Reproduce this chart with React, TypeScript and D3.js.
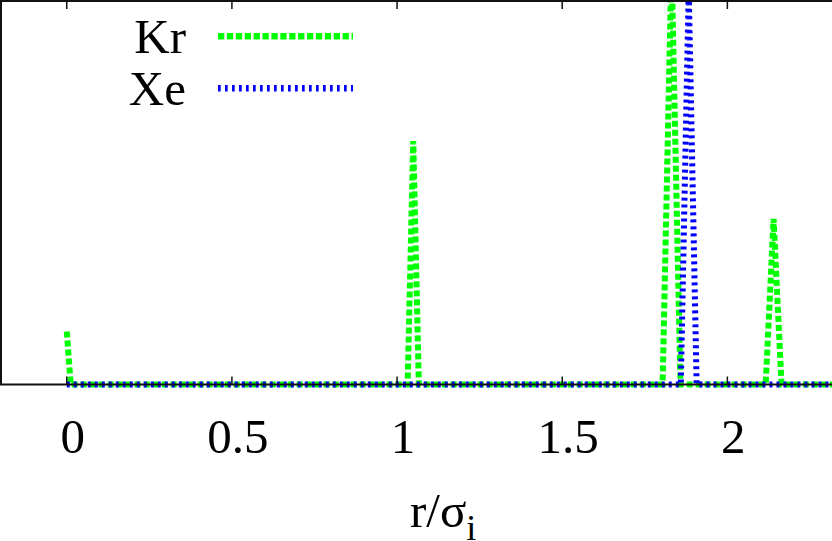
import React from "react";
import * as d3 from "d3";

// Data
const xTicks = [0, 0.5, 1, 1.5, 2];
const xTickLabels = ["0", "0.5", "1", "1.5", "2"];
const seriesNames = ["Kr", "Xe"];
const seriesColors = ["#00ff00", "#0000ff"];

const krR = [0, 0.012, 1.032, 1.049, 1.066, 1.804, 1.831, 1.858, 2.116, 2.14, 2.164, 2.32];
const krG = [1.38, 0, 0, 6.35, 0, 0, 11.0, 0, 0, 4.32, 0, 0];
const xeR = [0, 1.859, 1.883, 1.907, 2.32];
const xeG = [0, 0, 10.3, 0, 0];

const W = 832;
const H = 541;
const FONT = "'Liberation Serif', 'Times New Roman', serif";

export default function App() {
  const x = d3.scaleLinear().domain([-0.2, 2.32]).range([0.7, 0.7 + 2.52 * 330.3]);
  const y = d3.scaleLinear().domain([0, 10]).range([384.5, 1]);
  const line = d3
    .line<[number, number]>()
    .x((d) => x(d[0]))
    .y((d) => y(d[1]));

  const kr: [number, number][] = krR.map((r, i) => [r, krG[i]]);
  const xe: [number, number][] = xeR.map((r, i) => [r, xeG[i]]);

  const top = 1;
  const bottom = y(0);

  return (
    <svg
      width={W}
      height={H}
      style={{ position: "absolute", left: 0, top: 0, background: "#fff" }}
    >
      <defs>
        <clipPath id="plotclip">
          <rect x={1} y={0} width={W} height={bottom + 4} />
        </clipPath>
      </defs>
      <rect x={0} y={0} width={W} height={H} fill="#fff" />
      <g clipPath="url(#plotclip)">
        <path
          d={line(kr) || ""}
          fill="none"
          stroke={seriesColors[0]}
          strokeWidth={6}
          strokeDasharray="6,3"
          strokeLinejoin="miter"
        />
        <path
          d={line(xe) || ""}
          fill="none"
          stroke={seriesColors[1]}
          strokeWidth={6}
          strokeDasharray="3,4"
          strokeLinejoin="miter"
        />
      </g>
      {/* border */}
      <line x1={0} x2={W} y1={top} y2={top} stroke="#111" strokeWidth={2} />
      <line x1={1} x2={1} y1={0} y2={bottom} stroke="#111" strokeWidth={2} />
      <line x1={0} x2={W} y1={bottom} y2={bottom} stroke="#111" strokeWidth={2} />
      {/* ticks */}
      {xTicks.map((t, i) => (
        <g key={i}>
          <line x1={x(t)} x2={x(t)} y1={bottom} y2={bottom - 8} stroke="#111" strokeWidth={1.5} />
          <line x1={x(t)} x2={x(t)} y1={top} y2={top + 8} stroke="#111" strokeWidth={1.5} />
          <text
            x={x(t) + 6}
            y={453}
            textAnchor="middle"
            fontFamily={FONT}
            fontSize={49}
            fill="#000"
          >
            {xTickLabels[i]}
          </text>
        </g>
      ))}
      {/* axis label */}
      <text x={410} y={527} fontFamily={FONT} fontSize={49} fill="#000">
        r/σ
        <tspan fontSize={36} dy={13}>i</tspan>
      </text>
      {/* legend */}
      {seriesNames.map((n, i) => (
        <g key={n}>
          <text
            x={186}
            y={i === 0 ? 53 : 105}
            textAnchor="end"
            fontFamily={FONT}
            fontSize={49}
            fill="#000"
          >
            {n}
          </text>
          <line
            x1={218}
            x2={353}
            y1={i === 0 ? 36.3 : 88.3}
            y2={i === 0 ? 36.3 : 88.3}
            stroke={seriesColors[i]}
            strokeWidth={6.5}
            strokeDasharray={i === 0 ? "6.3,2.6" : "2.7,4.3"}
          />
        </g>
      ))}
    </svg>
  );
}
